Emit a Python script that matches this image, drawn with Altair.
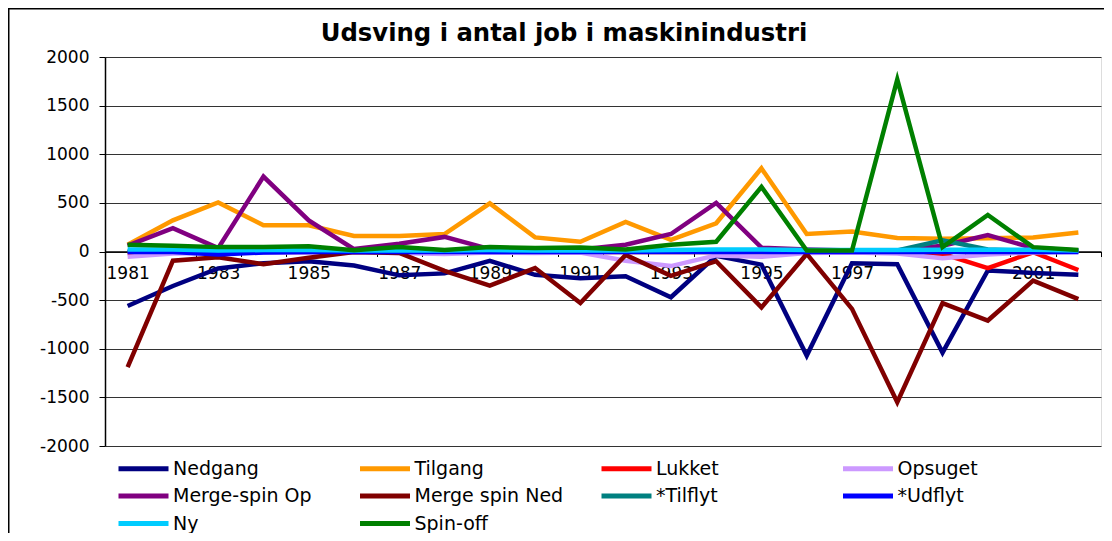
import altair as alt
import pandas as pd

years = [str(y) for y in range(1981, 2003)]

title_text = "Udsving i antal job i maskinindustri"

series_names = ["Nedgang", "Tilgang", "Lukket", "Opsuget", "Merge-spin Op",
                "Merge spin Ned", "*Tilflyt", "*Udflyt", "Ny", "Spin-off"]
series_colors = ["#000080", "#FF9900", "#FF0000", "#CC99FF", "#800080",
                 "#800000", "#008080", "#0000FF", "#00CCFF", "#008000"]

nedgang = [-560, -355, -175, -120, -100, -145, -245, -225, -95, -240, -275,
           -255, -470, -45, -135, -1070, -120, -130, -1040, -195, -220, -240]
tilgang = [70, 320, 505, 270, 270, 160, 160, 180, 495, 145, 100,
           305, 120, 290, 855, 180, 205, 140, 130, 135, 145, 195]
lukket = [-15, -5, -5, -5, -5, -5, -5, -5, -5, -5, -5,
          -5, -5, -5, -5, -5, -5, -10, -25, -170, -8, -190]
opsuget = [-55, -20, -15, -10, -10, -10, -15, -25, -10, -15, -10,
           -95, -150, -40, -55, -15, -10, -20, -70, -30, -10, -5]
merge_spin_op = [60, 240, 35, 770, 320, 25, 80, 150, 25, 20, 20,
                 70, 180, 500, 40, 20, 10, 10, 60, 170, 35, 10]
merge_spin_ned = [-1190, -95, -60, -130, -65, -5, -15, -200, -350, -170, -530,
                  -35, -250, -100, -575, -25, -590, -1550, -530, -710, -300, -490]
tilflyt = [0, 0, 0, 0, 0, 0, 0, 0, 0, 0, 0,
           0, 0, 0, 0, 0, 0, 10, 115, 20, 5, 0]
udflyt = [-5, -5, -30, -10, -5, -5, -5, -5, -5, -5, -5,
          -5, -5, -5, -5, -5, -5, -5, -5, -5, -5, -5]
ny = [20, 20, 10, 15, 15, 10, 10, 10, 15, 10, 10,
      10, 15, 20, 20, 15, 15, 15, 18, 18, 18, 10]
spin_off = [70, 60, 45, 45, 55, 12, 45, 15, 45, 35, 40,
            20, 70, 100, 665, 10, 10, 1770, 45, 375, 45, 15]

all_series = [nedgang, tilgang, lukket, opsuget, merge_spin_op,
              merge_spin_ned, tilflyt, udflyt, ny, spin_off]

y_ticks = [-2000, -1500, -1000, -500, 0, 500, 1000, 1500, 2000]

rows = []
for name, vals in zip(series_names, all_series):
    for yr, v in zip(years, vals):
        rows.append({"Aar": yr, "Serie": name, "Job": v})
df = pd.DataFrame(rows)

FONT = "DejaVu Sans"

lines = alt.Chart(df).mark_line(strokeWidth=4.5, clip=False).encode(
    x=alt.X("Aar:O",
            scale=alt.Scale(type="band", paddingInner=0, paddingOuter=0),
            axis=alt.Axis(title=None, tickBand="extent", labelAngle=0,
                          labelExpr="parseInt(datum.label) % 2 == 1 ? datum.label : ''",
                          offset=-194.5, domainColor="black", domainWidth=1.5,
                          tickColor="black", tickSize=5, tickWidth=1,
                          labelFont=FONT, labelFontSize=17, labelColor="black",
                          labelPadding=9, grid=False, labelOverlap=False)),
    y=alt.Y("Job:Q",
            scale=alt.Scale(domain=[-2000, 2000], nice=False, zero=False),
            axis=alt.Axis(title=None, values=y_ticks, labelExpr="'' + datum.value",
                          domainColor="black", domainWidth=1.5,
                          tickColor="black", tickSize=6,
                          labelFont=FONT, labelFontSize=17, labelColor="black",
                          labelPadding=10, grid=True, gridColor="#333333",
                          gridWidth=1, gridOpacity=1)),
    color=alt.Color("Serie:N",
                    scale=alt.Scale(domain=series_names, range=series_colors),
                    sort=series_names,
                    legend=alt.Legend(title=None, orient="none", direction="horizontal",
                                      legendX=29, legendY=402,
                                      columns=4, gridAlign="all",
                                      symbolType="M-5,0H5",
                                      symbolSize=100, symbolStrokeWidth=5,
                                      labelFont=FONT, labelFontSize=19, labelColor="black",
                                      labelLimit=400, labelOffset=20,
                                      columnPadding=27.5, rowPadding=6.5, padding=0)),
)

title = alt.Chart(pd.DataFrame({"t": [title_text]})).mark_text(
    font=FONT, fontSize=24.3, fontWeight="bold", color="black",
    align="center", baseline="alphabetic"
).encode(text="t:N", x=alt.value(459), y=alt.value(-16.5))

border = alt.Chart(pd.DataFrame({"a": [0]})).mark_rect(
    fillOpacity=0, stroke="black", strokeWidth=1.5, clip=False
).encode(x=alt.value(-96.25), y=alt.value(-48.25),
         x2=alt.value(1200), y2=alt.value(700))

chart = alt.layer(lines, title, border).properties(
    width=996, height=389,
    autosize=alt.AutoSizeParams(type="none"),
    padding={"left": 97, "top": 49, "right": 3, "bottom": 87},
).configure_view(stroke="#8c8c8c", strokeWidth=2).configure(background="white")

chart.save("out.html", embed_options={"renderer": "svg", "actions": False})
